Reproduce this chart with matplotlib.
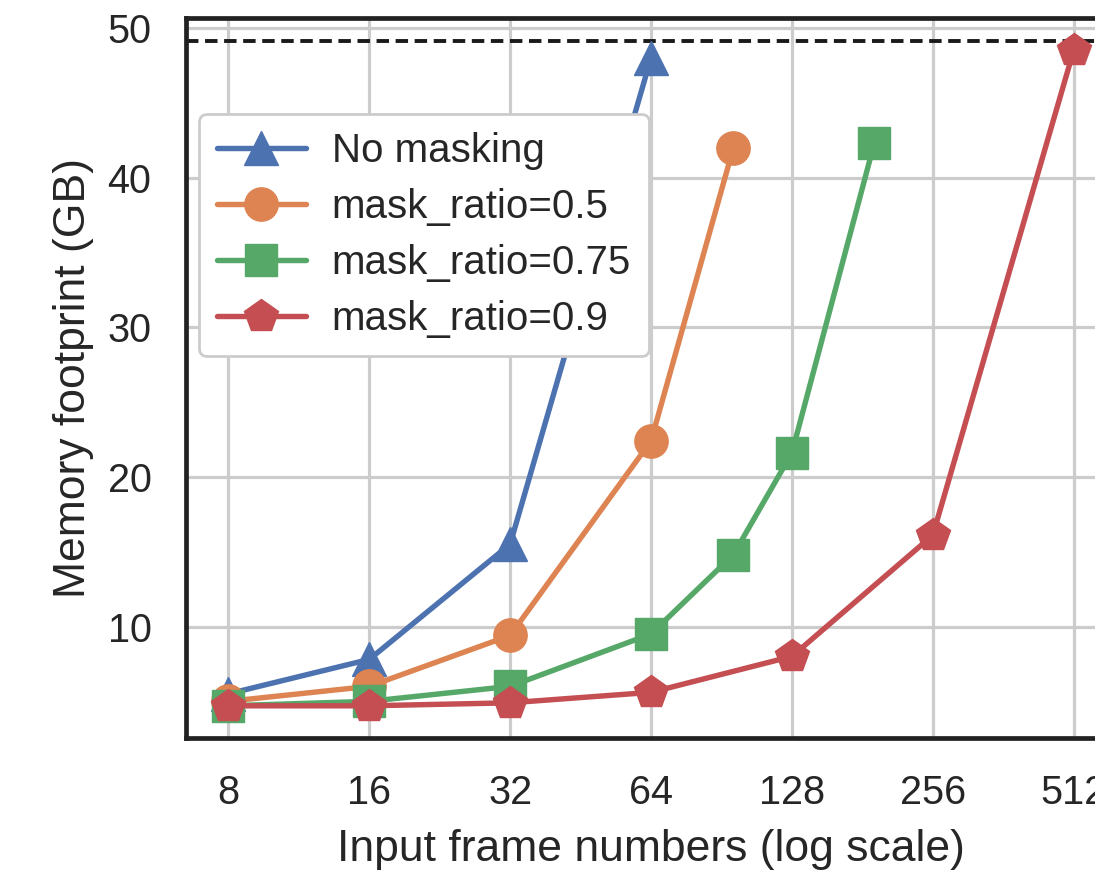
import matplotlib
matplotlib.use("Agg")
import matplotlib.pyplot as plt
import seaborn as sns

# data
frames_nomask = [8, 16, 32, 64]
mem_nomask = [5.5, 7.8, 15.5, 48.0]
frames_05 = [8, 16, 32, 64, 96]
mem_05 = [5.0, 6.0, 9.4, 22.4, 42.0]
frames_075 = [8, 16, 32, 64, 96, 128, 192]
mem_075 = [4.7, 5.0, 6.0, 9.5, 14.8, 21.6, 42.3]
frames_09 = [8, 16, 32, 64, 128, 256, 512]
mem_09 = [4.7, 4.7, 4.9, 5.6, 8.0, 16.1, 48.5]
gpu_limit = 49.15

xticks = [8, 16, 32, 64, 128, 256, 512]
yticks = [10, 20, 30, 40, 50]

sns.set_theme(style="whitegrid")
plt.rcParams['font.family'] = ['Liberation Sans', 'DejaVu Sans']

fig = plt.figure(figsize=(10.95, 8.72), dpi=100)
ax = fig.add_axes([0.170, 0.1537, 0.849, 0.8257])

pal = sns.color_palette("deep")
lw = 3.9
ax.plot(frames_nomask, mem_nomask, marker='^', color=pal[0], lw=lw, ms=25, label='No masking')
ax.plot(frames_05, mem_05, marker='o', color=pal[1], lw=lw, ms=24, label='mask_ratio=0.5')
ax.plot(frames_075, mem_075, marker='s', color=pal[2], lw=lw, ms=23, label='mask_ratio=0.75')
ax.plot(frames_09, mem_09, marker='p', color=pal[3], lw=lw, ms=25, label='mask_ratio=0.9')
ax.axhline(gpu_limit, color='#1a1a1a', ls='--', lw=2.8, dashes=(3.2, 1.7), zorder=1)

ax.set_xscale('log', base=2)
ax.set_xlim(6.5, 630)
ax.set_ylim(2.55, 50.67)
ax.set_xticks(xticks)
ax.set_xticklabels([str(v) for v in xticks])
ax.minorticks_off()
ax.set_yticks(yticks)
ax.tick_params(labelsize=28.5, pad=20)
ax.tick_params(axis='y', pad=19)
ax.grid(True, color='#cccccc', lw=2.3)

for s in ax.spines.values():
    s.set_color('#222222')
    s.set_linewidth(3.4)

ax.set_xlabel('Input frame numbers (log scale)', fontsize=32, labelpad=12)
ax.set_ylabel('Memory footprint (GB)', fontsize=32, labelpad=10)

leg = ax.legend(loc='upper left', bbox_to_anchor=(0.005, 0.878), fontsize=29,
                frameon=True, handlelength=2.2, borderpad=0.45, labelspacing=0.45,
                handletextpad=0.65, borderaxespad=0.2)
leg.get_frame().set_alpha(1)
leg.get_frame().set_edgecolor('#cccccc')
leg.get_frame().set_linewidth(2)

fig.savefig('out.png', dpi=100)
